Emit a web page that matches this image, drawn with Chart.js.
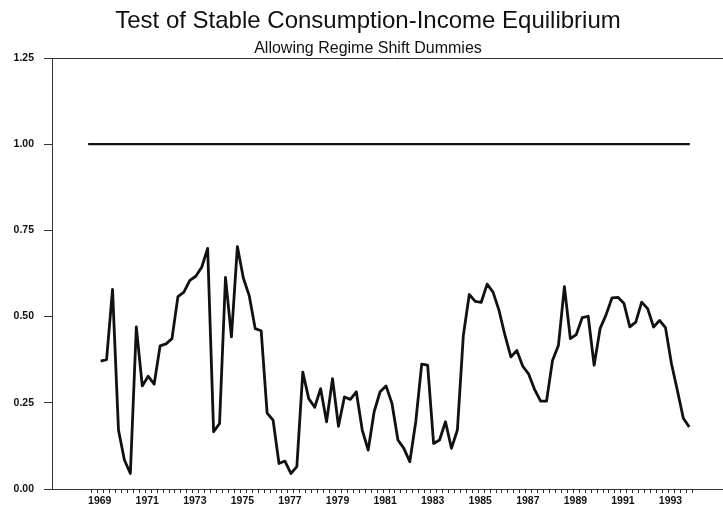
<!DOCTYPE html>
<html>
<head>
<meta charset="utf-8">
<script src="https://cdn.jsdelivr.net/npm/chart.js@4/dist/chart.umd.min.js"></script>
<style>
  html, body { margin: 0; padding: 0; background: #fff; overflow: hidden; }
  #wrap { width: 736px; height: 510px; }
</style>
</head>
<body>
<div id="wrap"><canvas id="myChart"></canvas></div>
<script>
// quarterly series, first obs 1969 Q2
let startYear = 1969;
let startQuarter = 2;
let valores = [
  0.371, 0.375, 0.579, 0.171, 0.084, 0.045, 0.470, 0.299, 0.327, 0.304,
  0.415, 0.421, 0.436, 0.558, 0.571, 0.605, 0.617, 0.643, 0.698, 0.166,
  0.190, 0.614, 0.441, 0.703, 0.612, 0.560, 0.465, 0.459, 0.220, 0.200,
  0.074, 0.081, 0.045, 0.065, 0.339, 0.262, 0.237, 0.291, 0.195, 0.320,
  0.182, 0.267, 0.260, 0.282, 0.171, 0.113, 0.224, 0.282, 0.299, 0.248,
  0.142, 0.118, 0.079, 0.195, 0.362, 0.359, 0.132, 0.142, 0.195, 0.118,
  0.171, 0.445, 0.564, 0.544, 0.541, 0.594, 0.571, 0.518, 0.446, 0.383,
  0.402, 0.356, 0.333, 0.288, 0.255, 0.255, 0.373, 0.417, 0.587, 0.436,
  0.448, 0.497, 0.501, 0.359, 0.465, 0.505, 0.554, 0.556, 0.539, 0.470,
  0.484, 0.542, 0.523, 0.470, 0.489, 0.468, 0.364, 0.286, 0.205, 0.180
];
// reference line at 1
let linhaAnos = [1968.85, 1994.15];
let linhaValores = [1.0, 1.0];
// labelled years on the time axis
let anosRotulo = [1969, 1971, 1973, 1975, 1977, 1979, 1981, 1983, 1985, 1987, 1989, 1991, 1993];
let yTicks = [0, 0.25, 0.5, 0.75, 1.0, 1.25];

// quarter midpoints as x positions
let trimestres = [];
for (let i = 0; i < valores.length; i++) {
    let q = startQuarter - 1 + i;
    trimestres.push(startYear + Math.floor(q / 4) + ((q % 4) + 0.5) / 4);
}
let marcasX = [];
for (let t = 1969; t <= 1994.25; t += 0.25) marcasX.push(t);

let ctx = document.getElementById("myChart");

let dados = {
    datasets: [{
        data: valores.map((v, i) => ({ x: trimestres[i], y: v })),
        borderColor: '#111',
        borderWidth: 2.8,
        borderJoinStyle: 'round',
        pointRadius: 0,
        tension: 0
    }, {
        data: linhaValores.map((v, i) => ({ x: linhaAnos[i], y: v })),
        borderColor: '#111',
        borderWidth: 2.2,
        pointRadius: 0
    }]
};

let opcoes = {
    responsive: true,
    maintainAspectRatio: false,
    animation: false,
    layout: { padding: 0 },
    plugins: {
        legend: { display: false },
        tooltip: { enabled: false },
        title: {
            display: true,
            text: 'Test of Stable Consumption-Income Equilibrium',
            color: '#111',
            font: { family: 'Liberation Sans, Arial', size: 24, weight: 'normal' },
            padding: { top: 7, bottom: 2 }
        },
        subtitle: {
            display: true,
            text: 'Allowing Regime Shift Dummies',
            color: '#111',
            font: { family: 'Liberation Sans, Arial', size: 16, weight: 'normal' },
            padding: { top: 1, bottom: 0 }
        }
    },
    scales: {
        x: {
            type: 'linear',
            min: 1967.33,
            max: 1996.09,
            afterBuildTicks: (s) => { s.ticks = marcasX.map(v => ({ value: v })); },
            afterFit: (s) => { s.height = 21; },
            grid: { drawOnChartArea: false, tickLength: 4, tickColor: '#333' },
            border: { display: true, color: '#333', width: 1 },
            ticks: {
                autoSkip: false,
                maxRotation: 0,
                minRotation: 0,
                padding: 2,
                labelOffset: 8,
                color: '#111',
                font: { family: 'Liberation Sans, Arial', size: 10.5, weight: 'bold' },
                callback: (v) => anosRotulo.includes(v) ? String(v) : ''
            }
        },
        y: {
            min: 0,
            max: 1.25,
            afterBuildTicks: (s) => { s.ticks = yTicks.map(v => ({ value: v })); },
            afterFit: (s) => { s.width = 52; },
            grid: {
                tickLength: 8,
                tickColor: '#333',
                color: (c) => (c.tick && c.tick.value === 1.25) ? '#333' : 'rgba(0,0,0,0)'
            },
            border: { display: true, color: '#333', width: 1 },
            ticks: {
                padding: 10,
                color: '#111',
                font: { family: 'Liberation Sans, Arial', size: 10.5, weight: 'bold' },
                callback: (v) => v.toFixed(2)
            }
        }
    }
};

let meuGrafico = new Chart(ctx, {
    type: 'line',
    data: dados,
    options: opcoes
});
</script>
</body>
</html>
